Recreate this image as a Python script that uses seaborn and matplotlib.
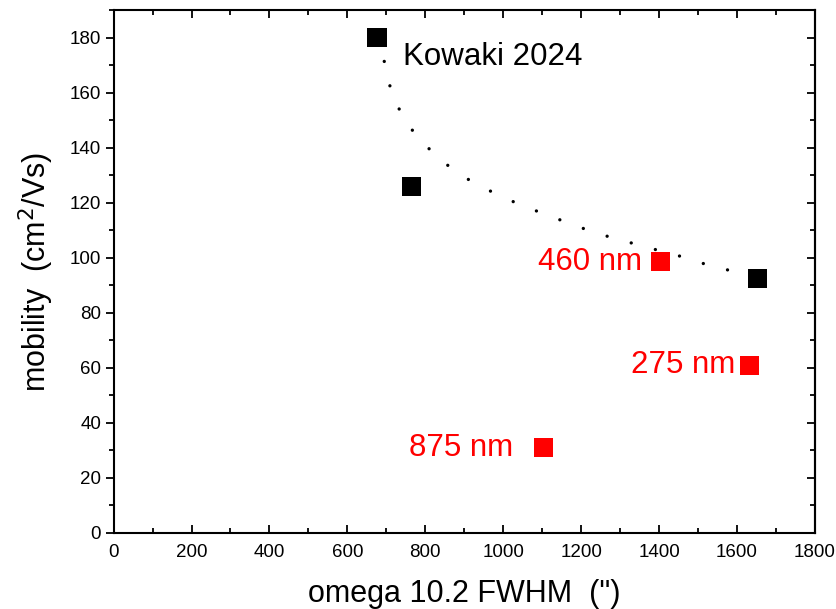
import matplotlib
matplotlib.use("Agg")
import matplotlib.pyplot as plt
import seaborn as sns
import pandas as pd
from matplotlib.ticker import MultipleLocator

sns.set_style("ticks")
plt.rcParams["font.family"] = ["Liberation Sans", "DejaVu Sans"]
plt.rcParams["text.color"] = "black"
plt.rcParams["axes.labelcolor"] = "black"
plt.rcParams["xtick.color"] = "black"
plt.rcParams["ytick.color"] = "black"

# Kowaki 2024 reference samples
ref_fwhm = [676, 764, 1652]
ref_mobility = [180, 126, 92.5]

# this work, labelled by layer thickness
our_fwhm = [1403, 1633, 1103]
our_mobility = [98.5, 61, 31]
our_labels = ["460 nm", "275 nm", "875 nm"]

# trend curve through the reference samples
trend_fwhm = [676, 687, 712, 738, 774, 826, 880, 936, 991, 1047, 1102, 1156,
              1212, 1267, 1323, 1377, 1434, 1488, 1545, 1596, 1652]
trend_mobility = [180, 176, 160.7, 152.4, 144.8, 137.2, 131, 126.3, 122.6, 119,
                  116.1, 113.2, 110.3, 107.8, 105.6, 103.4, 101.6, 98.7, 96.9,
                  94.7, 92.5]

ref = pd.DataFrame({"fwhm": ref_fwhm, "mobility": ref_mobility})
ours = pd.DataFrame({"fwhm": our_fwhm, "mobility": our_mobility, "label": our_labels})
trend = pd.DataFrame({"fwhm": trend_fwhm, "mobility": trend_mobility})

fig = plt.figure(figsize=(8.37, 6.09), dpi=100)
ax = fig.add_axes([0.1357, 0.1248, 0.9737 - 0.1357, 0.9836 - 0.1248])

sns.lineplot(data=trend, x="fwhm", y="mobility", ax=ax, color="black",
             linestyle=(0, (0.01, 7.5)), linewidth=2.4, sort=False, zorder=1,
             dash_capstyle="round")
sns.scatterplot(data=ref, x="fwhm", y="mobility", ax=ax, marker="s", s=190,
                color="black", edgecolor="none", zorder=3)
sns.scatterplot(data=ours, x="fwhm", y="mobility", ax=ax, marker="s", s=190,
                color="#ff0000", edgecolor="none", zorder=3)

label_size = 22.5
ax.text(744, 173, "Kowaki 2024", fontsize=label_size, color="black",
        ha="left", va="center")
# gap between each label and its marker, in data units
label_gap = [46, 38, 77]
for x, y, lab, gap in zip(our_fwhm, our_mobility, our_labels, label_gap):
    ax.text(x - gap, y, lab, fontsize=label_size, color="#ff0000",
            ha="right", va="center")

ax.set_xlim(0, 1800)
ax.set_ylim(0, 190)
ax.xaxis.set_major_locator(MultipleLocator(200))
ax.xaxis.set_minor_locator(MultipleLocator(100))
ax.yaxis.set_major_locator(MultipleLocator(20))
ax.yaxis.set_minor_locator(MultipleLocator(10))

for s in ax.spines.values():
    s.set_visible(True)
    s.set_linewidth(1.5)
    s.set_color("black")

ax.tick_params(axis="x", which="both", direction="in", top=True, bottom=True,
               labelsize=13.5, width=1.3, pad=8)
ax.tick_params(axis="x", which="major", length=6)
ax.tick_params(axis="x", which="minor", length=3.5)
ax.tick_params(axis="y", which="both", direction="out", left=True, right=False,
               labelsize=13.5, width=1.3, pad=3)
ax.tick_params(axis="y", which="major", length=6)
ax.tick_params(axis="y", which="minor", length=3.5)

# inward ticks on the right spine
ax_r = ax.secondary_yaxis("right")
ax_r.yaxis.set_major_locator(MultipleLocator(20))
ax_r.yaxis.set_minor_locator(MultipleLocator(10))
ax_r.tick_params(axis="y", which="both", direction="in", labelright=False, width=1.3)
ax_r.tick_params(axis="y", which="major", length=6)
ax_r.tick_params(axis="y", which="minor", length=3.5)
ax_r.spines["right"].set_linewidth(1.5)

ax.set_xlabel("omega 10.2 FWHM  (\")", fontsize=22, labelpad=13)
ax.set_ylabel("mobility  (cm$^2$/Vs)", fontsize=22, labelpad=10)
ax.grid(False)

fig.savefig("out.png", dpi=100)
